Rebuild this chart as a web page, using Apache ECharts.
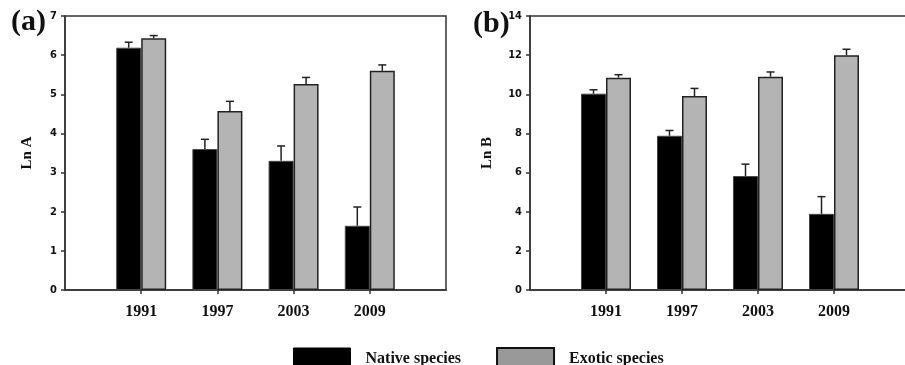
<!DOCTYPE html>
<html>
<head>
<meta charset="utf-8">
<script src="https://cdn.jsdelivr.net/npm/echarts@6/dist/echarts.min.js"></script>
<style>
  html, body { margin: 0; padding: 0; background: #fff; }
  #main { width: 905px; height: 365px; }
</style>
</head>
<body>
<div id="main"></div>
<script>
// data
var years = ['1991', '1997', '2003', '2009'];
var lnANative = [6.19, 3.60, 3.30, 1.64];
var lnANativeErr = [0.14, 0.25, 0.38, 0.48];
var lnAExotic = [6.43, 4.57, 5.26, 5.60];
var lnAExoticErr = [0.07, 0.25, 0.17, 0.15];
var lnBNative = [10.03, 7.88, 5.82, 3.89];
var lnBNativeErr = [0.20, 0.27, 0.61, 0.88];
var lnBExotic = [10.85, 9.91, 10.90, 11.99];
var lnBExoticErr = [0.15, 0.39, 0.24, 0.31];
var ticksA = [0, 1, 2, 3, 4, 5, 6, 7];
var ticksB = [0, 2, 4, 6, 8, 10, 12, 14];

// empty slots at both ends so the years sit like the original
var cats = [''].concat(years).concat(['']);
var barW = 25;
var serif = '"Liberation Serif", "Times New Roman", serif';
var sans = '"DejaVu Sans Condensed", "DejaVu Sans", sans-serif';

var pairs = function (vals) {
    return vals.map(function (v, i) { return [years[i], v]; });
};
var errData = function (vals, errs) {
    return vals.map(function (v, i) { return [years[i], v + errs[i], v]; });
};

// draws only the upper half of each error bar
var errRender = function (offset) {
    return function (params, api) {
        var top = api.coord([api.value(0), api.value(1)]);
        var base = api.coord([api.value(0), api.value(2)]);
        var cx = top[0] + offset;
        var st = { stroke: '#222', lineWidth: 1.5 };
        return {
            type: 'group',
            children: [
                { type: 'line', shape: { x1: cx, y1: base[1], x2: cx, y2: top[1] }, style: st },
                { type: 'line', shape: { x1: cx - 4, y1: top[1], x2: cx + 4, y2: top[1] }, style: st }
            ]
        };
    };
};

var xAxisOf = function (gi) {
    return {
        type: 'category', gridIndex: gi, data: cats, boundaryGap: false,
        axisLine: { lineStyle: { color: '#333', width: 1.5 } },
        axisTick: { show: true, length: 4, interval: function (i, v) { return v !== ''; },
            lineStyle: { color: '#333', width: 1.5 } },
        axisLabel: { interval: 0, margin: 14, color: '#111', fontFamily: serif, fontWeight: 'bold', fontSize: 16 }
    };
};
var yAxisOf = function (gi, ticks, name, gap) {
    return {
        type: 'value', gridIndex: gi, min: ticks[0], max: ticks[ticks.length - 1],
        interval: ticks[1] - ticks[0],
        name: name, nameLocation: 'middle', nameGap: gap, nameRotate: 90,
        nameTextStyle: { color: '#111', fontFamily: serif, fontWeight: 'bold', fontSize: 15 },
        splitLine: { show: false },
        axisLine: { show: true, lineStyle: { color: '#333', width: 1.5 } },
        axisTick: { show: true, length: 4, lineStyle: { color: '#333', width: 1.5 } },
        axisLabel: { margin: 8, color: '#111', fontFamily: sans, fontWeight: 'bold', fontSize: 11 }
    };
};

var nativeStyle = { color: '#000', borderColor: '#444', borderWidth: 1 };
var exoticStyle = { color: '#b4b4b4', borderColor: '#222', borderWidth: 1.5 };

var series = [];
[[lnANative, lnANativeErr, lnAExotic, lnAExoticErr], [lnBNative, lnBNativeErr, lnBExotic, lnBExoticErr]]
    .forEach(function (d, gi) {
        series.push({ name: 'Native species', type: 'bar', xAxisIndex: gi, yAxisIndex: gi,
            barWidth: barW, barGap: '0%', data: pairs(d[0]), itemStyle: nativeStyle });
        series.push({ name: 'Exotic species', type: 'bar', xAxisIndex: gi, yAxisIndex: gi,
            barWidth: barW, barGap: '0%', data: pairs(d[2]), itemStyle: exoticStyle });
        series.push({ type: 'custom', xAxisIndex: gi, yAxisIndex: gi, z: 5,
            renderItem: errRender(-barW / 2), data: errData(d[0], d[1]) });
        series.push({ type: 'custom', xAxisIndex: gi, yAxisIndex: gi, z: 5,
            renderItem: errRender(barW / 2), data: errData(d[2], d[3]) });
    });

var myChart = echarts.init(document.getElementById('main'));
var option = {
    backgroundColor: '#fff',
    animation: false,
    title: [
        { text: '(a)', left: 6, top: 2, textStyle: { fontFamily: serif, fontWeight: 'bold', fontSize: 30, color: '#111' } },
        { text: '(b)', left: 468, top: 4, textStyle: { fontFamily: serif, fontWeight: 'bold', fontSize: 30, color: '#111' } }
    ],
    grid: [
        { left: 65, top: 16, width: 381, height: 274, show: true, borderColor: '#333', borderWidth: 1.5,
            outerBoundsMode: 'none' },
        { left: 530, top: 16, width: 380, height: 274, show: true, borderColor: '#333', borderWidth: 1.5,
            outerBoundsMode: 'none' }
    ],
    legend: {
        left: 288, top: 342, itemWidth: 57, itemHeight: 21, itemGap: 35, icon: 'rect',
        data: [
            { name: 'Native species', itemStyle: { color: '#000', borderColor: '#000', borderWidth: 1 } },
            { name: 'Exotic species', itemStyle: { color: '#999', borderColor: '#111', borderWidth: 2 } }
        ],
        textStyle: { fontFamily: serif, fontWeight: 'bold', fontSize: 16, color: '#111', padding: [0, 0, 0, 10] }
    },
    xAxis: [xAxisOf(0), xAxisOf(1)],
    yAxis: [yAxisOf(0, ticksA, 'Ln A', 30), yAxisOf(1, ticksB, 'Ln B', 35)],
    series: series
};
myChart.setOption(option);
</script>
</body>
</html>
